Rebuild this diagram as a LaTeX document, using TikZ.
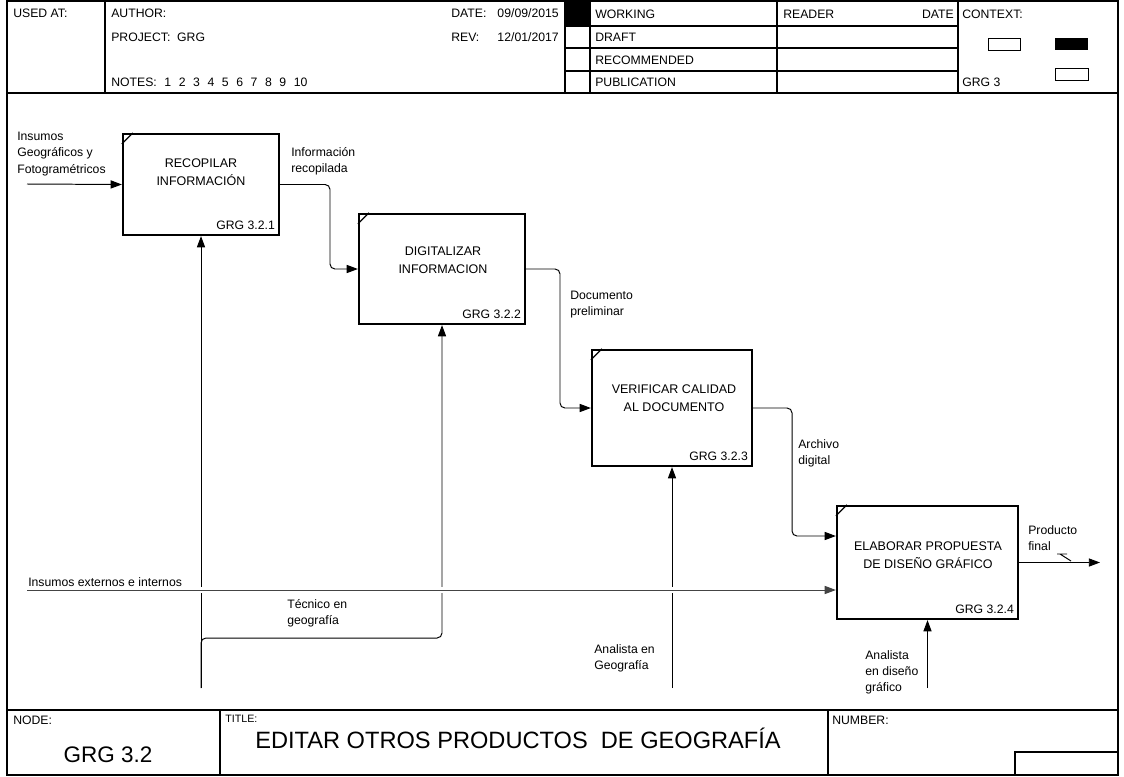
\documentclass[tikz,border=0pt]{standalone}
\usepackage{fontspec}
\setmainfont{Liberation Sans}
\usepackage{tikz}
\usetikzlibrary{positioning,arrows.meta,fit,calc}
\definecolor{flowgray}{HTML}{444444}
\def\nsp{\hspace{0.62em}}

\tikzset{
  frameline/.style={line width=1pt},
  actbox/.style={draw,line width=1.6pt,inner sep=0pt},
  flow/.style={line width=0.7pt,rounded corners=3.5pt,-{Triangle[length=8pt,width=5.8pt]}},
  lbl/.style={anchor=north west,align=left,inner sep=0pt},
  boxtxt/.style={align=center,inner sep=0pt,font=\fontsize{8.9}{12.6}\selectfont},
  boxid/.style={anchor=south east,inner sep=0pt},
  hdr/.style={anchor=west,inner sep=0pt},
}

\begin{document}
\begin{tikzpicture}[x=0.025cm,y=-0.025cm,font=\fontsize{8.7}{11.5}\selectfont]
\useasboundingbox[fill=white] (0,0) rectangle (1124,776);

% frame and header
\draw[frameline] (7,1) rectangle (1118,775);
\draw[frameline] (7,93) -- (1118,93);
\draw[frameline] (7,710) -- (1118,710);
\foreach \x in {105,565,590,777,958}
  \draw[frameline] (\x,1) -- (\x,93);
\foreach \y in {26,48,71}
  \draw[frameline] (565,\y) -- (958,\y);
\fill (565,1) rectangle (590,26);
\foreach \x in {220,828}
  \draw[frameline] (\x,710) -- (\x,775);
\draw[frameline] (1015,752) rectangle (1118,775);
\draw (988,38) rectangle (1020,50);
\fill (1055,38) rectangle (1088,50);
\draw (1055,68) rectangle (1088,80);

\node[hdr] (usedat) at (13,13) {USED AT:};
\node[hdr] (author) at (111,13) {AUTHOR:};
\node[hdr] (project) at (111,37) {PROJECT:\ \ GRG};
\node[hdr] (notes) at (111,82) {NOTES:\nsp 1\nsp 2\nsp 3\nsp 4\nsp 5\nsp 6\nsp 7\nsp 8\nsp 9\nsp 10};
\node[hdr] (datelbl) at (451,13) {DATE:};
\node[hdr,anchor=east] (dateval) at (559,13) {09/09/2015};
\node[hdr] (revlbl) at (451,37) {REV:};
\node[hdr,anchor=east] (revval) at (559,37) {12/01/2017};
\node[hdr] (working) at (595,14) {WORKING};
\node[hdr] (draft) at (595,37) {DRAFT};
\node[hdr] (recom) at (595,60) {RECOMMENDED};
\node[hdr] (publ) at (595,82) {PUBLICATION};
\node[hdr] (reader) at (783,14) {READER};
\node[hdr,anchor=east] (readdate) at (954,14) {DATE};
\node[hdr] (context) at (962,14) {CONTEXT:};
\node[hdr] (ctxnode) at (962,82) {GRG 3};

% activity boxes
\node[actbox,fit={(123,134) (279,235)}] (box1) {};
\node[actbox,fit={(359,214) (525,324)}] (box2) {};
\node[actbox,fit={(592,350) (752,466)}] (box3) {};
\node[actbox,fit={(837,506) (1018,619)}] (box4) {};
\foreach \b in {box1,box2,box3,box4}
  \draw[line width=0.8pt] ($(\b.north west)+(0,11)$) -- ($(\b.north west)+(11,0)$);

\node[boxtxt] (txt1) at (201,172) {RECOPILAR\\INFORMACIÓN};
\node[boxtxt] (txt2) at (443,260) {DIGITALIZAR\\INFORMACION};
\node[boxtxt] (txt3) at (674,398) {VERIFICAR CALIDAD\\AL DOCUMENTO};
\node[boxtxt] (txt4) at (928,555) {ELABORAR PROPUESTA\\DE DISEÑO GRÁFICO};
\node[boxid] (id1) at ($(box1.south east)+(-5,-6)$) {GRG 3.2.1};
\node[boxid] (id2) at ($(box2.south east)+(-5,-6)$) {GRG 3.2.2};
\node[boxid] (id3) at ($(box3.south east)+(-5,-6)$) {GRG 3.2.3};
\node[boxid] (id4) at ($(box4.south east)+(-5,-6)$) {GRG 3.2.4};

% arrows
\coordinate (src1) at (27,184);
\coordinate (j12) at (330,0);
\coordinate (j23) at (560,0);
\coordinate (j34) at (792,0);
\coordinate (in4a) at (0,536);
\coordinate (out4) at (1100,0);
\coordinate (base) at (0,688);
\coordinate (tee) at (0,638);
\coordinate (src2) at (27,590);

\draw[flow] (src1) -- (box1.west);
\draw[flow] (box1.east) -- (j12 |- box1.east) -- (j12 |- box2.west) -- (box2.west);
\draw[flow] (box2.east) -- (j23 |- box2.east) -- (j23 |- box3.west) -- (box3.west);
\draw[flow] (box3.east) -- (j34 |- box3.east) -- (j34 |- in4a) -- (box4.west |- in4a);
\draw[flow] (box4.east) -- (out4 |- box4.east);
\draw[line width=0.7pt] (1057,554) -- (1067,554) (1060,554) -- (1071,561);

\draw[flow] (box1.south |- base) -- (box1.south);
\draw[flow] (box1.south |- base) -- (box1.south |- tee) -- (box2.south |- tee) -- (box2.south);
\draw[flow] (box3.south |- base) -- (box3.south);
\draw[flow] (box4.south |- base) -- (box4.south);
\draw[flow,draw=flowgray,preaction={draw=white,line width=4pt,-,shorten >=4pt}]
  (src2) -- (box4.west |- src2);

% labels
\node[lbl] (lin1) at (17,132) {Insumos\\Geográficos y\\Fotogramétricos};
\node[lbl] (lout1) at (291,147) {Información\\recopilada};
\node[lbl] (lout2) at (570,291) {Documento\\preliminar};
\node[lbl] (lout3) at (798,439) {Archivo\\digital};
\node[lbl] (lout4) at (1028,525) {Producto\\final};
\node[lbl,anchor=base west] (lin2) at (28,586) {Insumos externos e internos};
\node[lbl] (lmech2) at (287,599) {Técnico en\\geografía};
\node[lbl] (lmech3) at (594,644) {Analista en\\Geografía};
\node[lbl] (lmech4) at (865,650) {Analista\\en diseño\\gráfico};

% bottom band
\node[anchor=north west,inner sep=0pt] (nodelbl) at (13,716) {NODE:};
\node[font=\fontsize{16}{18}\selectfont] (nodenum) at (108,755) {GRG 3.2};
\node[anchor=north west,inner sep=0pt,font=\fontsize{7.6}{9}\selectfont] (titlelbl) at (225,715) {TITLE:};
\node[font=\fontsize{16.8}{19}\selectfont] (title) at (518,738) {EDITAR OTROS PRODUCTOS\ \ DE GEOGRAFÍA};
\node[anchor=north west,inner sep=0pt] (numberlbl) at (832,716) {NUMBER:};

\end{tikzpicture}
\end{document}
